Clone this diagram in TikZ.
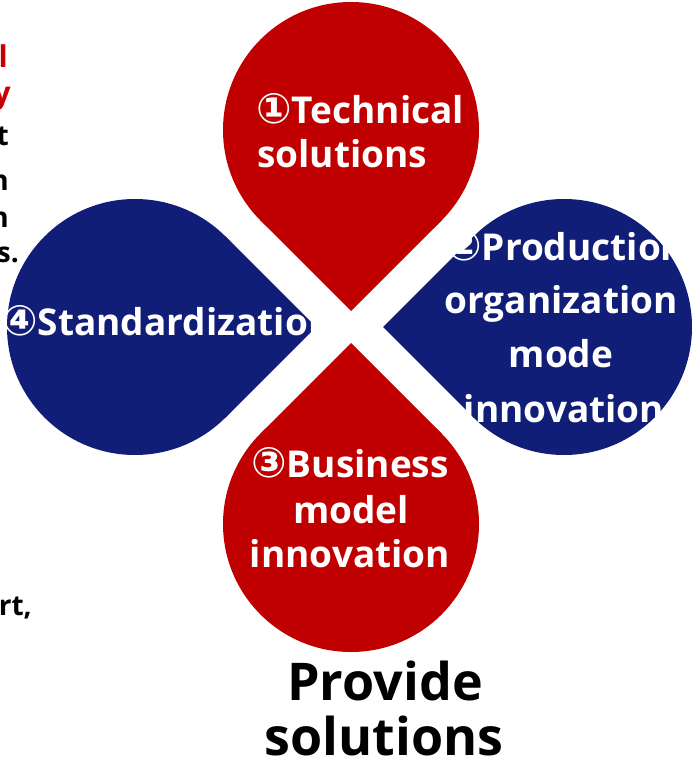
\documentclass[tikz,border=0pt]{standalone}
\usepackage{fontspec}
\setmainfont{Open Sans}
\newfontfamily\circfont{DejaVu Sans}
\definecolor{petalred}{RGB}{192,0,0}
\definecolor{petalblue}{RGB}{16,30,120}
\definecolor{fragred}{RGB}{200,0,0}
\newcommand{\cnum}[1]{{\circfont\fontsize{42}{44}\selectfont #1}}
\begin{document}
\begin{tikzpicture}[x=1pt,y=-1pt,
  petaltext/.style={text=white,font=\bfseries\fontsize{37}{44}\selectfont,inner sep=0pt},
  fragtext/.style={text=black,font=\bfseries\fontsize{28}{34}\selectfont,inner sep=0pt,anchor=base east},
  fragred/.style={fragtext,text=fragred,font=\bfseries\fontsize{30}{36}\selectfont},
  titletext/.style={text=black,font=\bfseries\fontsize{52}{60}\selectfont,inner sep=0pt,anchor=base}]
\useasboundingbox (0,0) rectangle (692,776);
% cropped text fragments on the left
\node[fragred] (f1) at (8,67) {l};
\node[fragred] (f2) at (11,103) {y};
\node[fragtext] (f3) at (9,145) {t};
\node[fragtext] (f4) at (9,190) {n};
\node[fragtext] (f5) at (9,227) {n};
\node[fragtext] (f6) at (19,262) {s.};
\node[fragtext] (f7) at (32,615) {rt,};
% top petal
\fill[petalred] (351,130) circle[radius=128];
\fill[petalred] (351,311) -- (441.5,220.5) -- (351,130) -- (260.5,220.5) -- cycle;
% right petal
\fill[petalblue] (564,327) circle[radius=128];
\fill[petalblue] (383,327) -- (473.5,236.5) -- (564,327) -- (473.5,417.5) -- cycle;
% bottom petal
\fill[petalred] (351,524) circle[radius=128];
\fill[petalred] (351,343) -- (260.5,433.5) -- (351,524) -- (441.5,433.5) -- cycle;
% left petal
\fill[petalblue] (135,327) circle[radius=128];
\fill[petalblue] (316,327) -- (225.5,236.5) -- (135,327) -- (225.5,417.5) -- cycle;
% texts
\node[petaltext,anchor=base west] (t1a) at (256,123) {\cnum{①}Technical};
\node[petaltext,anchor=base west] (t1b) at (257,167) {solutions};
\node[petaltext,anchor=base west] (t2a) at (446,260) {\cnum{②}Production};
\node[petaltext,anchor=base] (t2b) at (561,313) {organization};
\node[petaltext,anchor=base] (t2c) at (561,367) {mode};
\node[petaltext,anchor=base] (t2d) at (564,422) {innovation};
\node[petaltext,anchor=base] (t3a) at (350,477) {\cnum{③}Business};
\node[petaltext,anchor=base] (t3b) at (351,523) {model};
\node[petaltext,anchor=base] (t3c) at (350,567) {innovation};
\node[petaltext,anchor=base west] (t4) at (2,335) {\cnum{④}Standardization};
\node[titletext] (p1) at (385,700) {Provide};
\node[titletext] (p2) at (384,755) {solutions};
\end{tikzpicture}
\end{document}
